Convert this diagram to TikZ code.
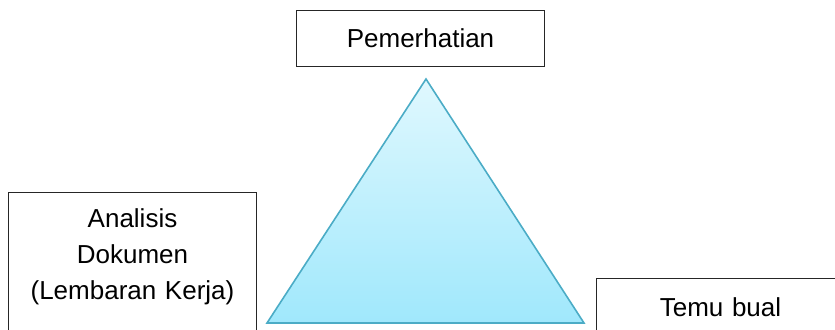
\documentclass[tikz,border=0pt]{standalone}
\usepackage{fontspec}
\setmainfont{Liberation Sans}
\usetikzlibrary{positioning}
\definecolor{triline}{RGB}{75,172,198}
\definecolor{tritop}{RGB}{224,248,254}
\definecolor{tribot}{RGB}{160,232,252}

\begin{document}
\begin{tikzpicture}[x=0.5pt,y=-0.5pt,box/.style={draw=black!85,fill=white,line width=0.5pt,align=center,text width=111pt,inner xsep=6.5pt,font=\fontsize{13}{18}\selectfont},tri/.style={draw=triline,line width=0.8pt,top color=tritop,bottom color=tribot}]
\useasboundingbox (0,0) rectangle (835,329);
\clip (0,0) rectangle (835,329);
\coordinate (apex) at (426,79);
\coordinate (baseL) at (267,323);
\coordinate (baseR) at (584,323);
\fill[black!40,shift={(1,3)}] (apex)--(baseL)--(baseR)--cycle;
\draw[tri] (apex)--(baseL)--(baseR)--cycle;
\node[box,minimum height=28pt] (pemerhatian) at (420.5,38) {Pemerhatian};
\node[box,anchor=north west,inner ysep=8pt,text depth=80pt] (analisis) at (8,192) {Analisis\\Dokumen\\(Lembaran Kerja)};
\node[box,draw=none,anchor=north west,inner ysep=9.5pt,text depth=40pt] (temubual) at (596,278) {Temu bual};
\draw[draw=black!85,line width=0.5pt] (temubual.south west) -- (temubual.north west) -- ([xshift=20pt]temubual.north east);
\end{tikzpicture}
\end{document}
